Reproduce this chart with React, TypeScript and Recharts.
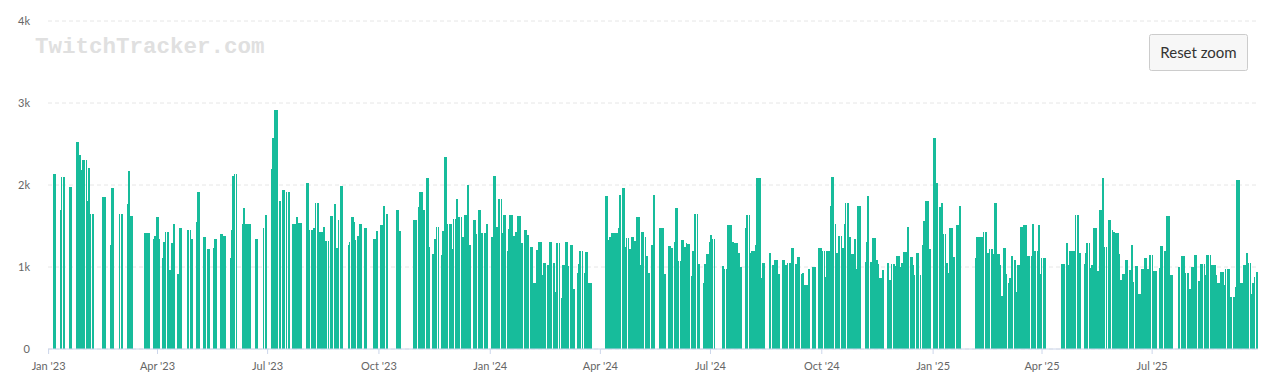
import { BarChart, Bar, XAxis, YAxis, CartesianGrid } from 'recharts';

// quarter start (day index from 1 Jan 2023) and labels
const quarterStarts = [0, 90, 181, 273, 365, 456, 547, 639, 731, 821, 912];
const quarterLabels = ["Jan '23", "Apr '23", "Jul '23", "Oct '23", "Jan '24", "Apr '24", "Jul '24", "Oct '24", "Jan '25", "Apr '25", "Jul '25"];
const yTicks = [0, 1000, 2000, 3000, 4000];
const totalDays = 1000;

// average viewers per day, 0 = no stream
const q1_2023 = [
  0, 0, 0, 0, 2130, 2130, 2130, 0, 0, 0,
  1700, 2100, 2100, 2100, 0, 0, 0, 1970, 1970, 1970,
  0, 0, 0, 2530, 2530, 2530, 2370, 2180, 2300, 2300,
  2300, 2300, 1800, 2210, 2210, 1650, 1650, 1650, 0, 0,
  0, 0, 0, 0, 0, 1850, 1850, 1850, 0, 0,
  0, 1270, 1960, 1960, 1960, 0, 0, 0, 0, 1650,
  1650, 1650, 0, 0, 0, 1770, 2170, 2170, 1620, 1620,
  0, 0, 0, 0, 0, 0, 0, 0, 0, 1420,
  1420, 1420, 1420, 1420, 0, 0, 0, 1340, 1380, 1610,
];
const q2_2023 = [
  1610, 1610, 1340, 0, 1110, 1310, 1310, 1430, 1430, 1430,
  960, 960, 1290, 1520, 1520, 0, 0, 910, 1470, 1470,
  1470, 0, 0, 0, 0, 1450, 1450, 1450, 1340, 1340,
  0, 0, 1550, 1910, 1910, 1910, 0, 0, 1360, 1360,
  1360, 1220, 1220, 1220, 0, 0, 1230, 1340, 1340, 1340,
  0, 0, 1400, 1400, 1400, 1380, 1380, 0, 0, 0,
  1110, 1450, 2110, 2110, 2140, 2140, 0, 0, 0, 0,
  1520, 1720, 1720, 1520, 1520, 1520, 1520, 1520, 0, 0,
  0, 1340, 1340, 1340, 0, 0, 0, 0, 1480, 1630,
  1630,
];
const q3_2023 = [
  0, 0, 0, 2200, 2570, 2570, 2920, 2920, 2920, 0,
  1800, 1800, 1940, 1940, 1940, 0, 1920, 1920, 1920, 0,
  0, 1530, 1530, 1530, 1610, 1610, 1540, 1540, 1540, 0,
  0, 0, 2020, 2020, 2020, 1450, 1450, 1450, 1470, 1470,
  1780, 1780, 1780, 1430, 1430, 1430, 1490, 1490, 1320, 1320,
  1320, 0, 1620, 1620, 1620, 1770, 1770, 1230, 1230, 1570,
  1990, 1990, 1990, 0, 0, 0, 0, 1270, 1310, 1610,
  1610, 1610, 1550, 1330, 1380, 1380, 1530, 1530, 1530, 0,
  1480, 1480, 1480, 0, 0, 0, 0, 0, 1340, 1340,
  1440, 1440,
];
const q4_2023 = [
  0, 1510, 1510, 1510, 1750, 1750, 1650, 1650, 0, 0,
  0, 0, 0, 0, 0, 1700, 1700, 1440, 1440, 0,
  0, 0, 0, 0, 0, 0, 0, 0, 0, 1570,
  1570, 1570, 0, 1730, 1920, 1920, 1920, 1690, 1690, 2080,
  2080, 2080, 1240, 0, 1160, 1160, 1340, 1340, 1490, 1490,
  0, 0, 1150, 1440, 2340, 2340, 2340, 1530, 1530, 1530,
  1530, 1220, 1590, 1590, 1830, 1830, 1610, 1610, 1610, 1370,
  1370, 1630, 1630, 2000, 2000, 1270, 1270, 0, 1570, 1570,
  1570, 1400, 1700, 1700, 1700, 1410, 1410, 1410, 1410, 1530,
  1530, 0,
];
const q1_2024 = [
  0, 1360, 1360, 2110, 2110, 1490, 1490, 1830, 1830, 1830,
  1410, 1640, 1640, 1640, 1200, 1460, 1640, 1640, 1640, 1380,
  1380, 1430, 1430, 1620, 1620, 1620, 1290, 1290, 1450, 1450,
  1450, 1390, 1390, 1240, 1240, 1240, 800, 800, 1210, 1210,
  1300, 1300, 1300, 900, 1050, 1050, 1050, 1020, 1020, 1300,
  1300, 1300, 1050, 1050, 690, 1290, 1290, 1290, 0, 620,
  1030, 1030, 1310, 1310, 1310, 1010, 1270, 1270, 1270, 730,
  730, 0, 930, 1040, 1190, 1190, 1190, 0, 930, 1180,
  1180, 810, 810, 810, 810, 0, 0, 0, 0, 0,
  0,
];
const q2_2024 = [
  0, 0, 0, 0, 1860, 1860, 1860, 1330, 1370, 1410,
  1410, 1410, 1410, 1410, 1410, 1480, 1880, 1880, 1960, 1960,
  1960, 1240, 1350, 1350, 1220, 1220, 1370, 1370, 1320, 1320,
  1610, 1610, 1610, 1020, 1430, 1430, 1430, 1370, 1130, 1130,
  930, 930, 1270, 1270, 1880, 1880, 0, 0, 0, 1470,
  1470, 1470, 1470, 910, 910, 0, 1260, 1260, 1260, 1230,
  1230, 1300, 1720, 1720, 1720, 1070, 1070, 1330, 1330, 1330,
  1240, 1290, 1280, 1280, 1280, 890, 1200, 1200, 1650, 1650,
  1650, 1040, 1040, 0, 0, 800, 1040, 1040, 1160, 1160,
  1300,
];
const q3_2024 = [
  1390, 1390, 1340, 1340, 0, 0, 0, 0, 0, 0,
  1010, 1010, 980, 980, 1510, 1510, 1510, 1510, 1300, 1300,
  1290, 1290, 1290, 1170, 1170, 1000, 1000, 0, 0, 1480,
  1630, 1630, 1630, 1170, 1190, 1190, 1190, 1270, 2090, 2090,
  2090, 2090, 870, 1050, 1050, 1050, 0, 0, 0, 1170,
  1170, 1030, 1030, 1090, 1090, 1090, 920, 920, 0, 0,
  1080, 1080, 1020, 1020, 1050, 1050, 1050, 1230, 1230, 1230,
  1040, 1040, 1120, 1120, 1120, 920, 930, 930, 780, 780,
  780, 980, 980, 0, 1000, 1000, 1000, 1000, 0, 1230,
  1230, 1230,
];
const q4_2024 = [
  1230, 1200, 1200, 880, 1200, 1200, 1200, 1740, 2100, 2100,
  2100, 1520, 1170, 1170, 1380, 1380, 1380, 1230, 1230, 1520,
  1780, 1780, 1780, 1370, 1370, 1160, 1160, 1340, 1340, 980,
  1740, 1740, 1740, 0, 0, 0, 1060, 1310, 1870, 1870,
  1060, 1060, 1350, 1350, 1350, 1080, 1080, 1040, 870, 870,
  960, 960, 0, 0, 1050, 1050, 840, 840, 1040, 1040,
  1040, 1010, 1130, 1130, 1130, 1000, 1050, 1050, 1180, 1180,
  1180, 1490, 1490, 1120, 1120, 1120, 1020, 900, 1170, 1170,
  1170, 0, 900, 1270, 1560, 1560, 1800, 1800, 1800, 1220,
  1220, 0,
];
const q1_2025 = [
  2570, 2570, 2570, 2020, 2020, 1730, 1730, 1780, 1780, 1400,
  1400, 1050, 1050, 930, 1470, 1470, 1470, 1120, 1120, 1510,
  1510, 1510, 1740, 1740, 0, 0, 0, 0, 0, 0,
  0, 0, 0, 0, 0, 1110, 1360, 1360, 1360, 1370,
  1370, 1370, 1430, 1430, 1430, 1170, 1170, 1220, 1220, 1220,
  1160, 1780, 1780, 1160, 1160, 1160, 1020, 650, 1230, 1230,
  1230, 920, 810, 870, 870, 1130, 1130, 1080, 1080, 690,
  1030, 1030, 1490, 1490, 1490, 1510, 1510, 1510, 1130, 1130,
  1130, 1130, 1520, 1520, 1200, 1200, 1200, 1510, 1510, 910,
];
const q2_2025 = [
  1110, 1110, 1110, 1110, 0, 0, 0, 0, 0, 0,
  0, 0, 0, 0, 0, 0, 1040, 1040, 1040, 1040,
  1290, 1290, 1020, 1200, 1200, 1200, 1200, 1200, 1630, 1630,
  1630, 1170, 1170, 0, 0, 1040, 1170, 1290, 1290, 1290,
  990, 1020, 1020, 1480, 1480, 1480, 950, 950, 1690, 1690,
  2090, 2090, 1250, 1250, 0, 1570, 1570, 1570, 1450, 1430,
  1430, 1410, 1410, 1410, 1160, 840, 840, 910, 910, 1080,
  1080, 1080, 960, 960, 1270, 1270, 820, 1010, 1010, 1010,
  670, 670, 970, 970, 970, 1110, 1110, 970, 970, 1150,
  1150,
];
const q3_2025 = [
  1150, 950, 950, 950, 950, 0, 990, 1260, 1260, 1260,
  1190, 1190, 1620, 1620, 1620, 900, 900, 900, 0, 0,
  0, 0, 1000, 1000, 1130, 1130, 1130, 1130, 930, 930,
  930, 730, 730, 1000, 1000, 1150, 1150, 1150, 830, 830,
  1040, 1040, 1040, 1040, 900, 1150, 1150, 1150, 1150, 1020,
  1020, 1020, 1020, 900, 810, 810, 810, 940, 940, 940,
  780, 980, 980, 980, 980, 630, 640, 640, 640, 760,
  2060, 2060, 2060, 800, 800, 800, 1020, 1020, 1170, 1170,
  1050, 1050, 670, 810, 810, 880, 940, 940,
];

const quarters = [q1_2023, q2_2023, q3_2023, q4_2023, q1_2024, q2_2024, q3_2024, q4_2024, q1_2025, q2_2025, q3_2025];

const data: { day: number; viewers: number | null }[] = [];
for (let d = 0; d < totalDays; d++) data.push({ day: d, viewers: null });
quarters.forEach((vals, qi) => {
  vals.forEach((v, i) => {
    const d = quarterStarts[qi] + i;
    if (d < totalDays && v > 0) data[d].viewers = v;
  });
});

const fmtY = (v: number) => (v === 0 ? '0' : `${v / 1000}k`);
const fmtX = (v: number) => {
  const i = quarterStarts.indexOf(v);
  return i >= 0 ? quarterLabels[i] : '';
};

export default function App() {
  return (
    <div style={{ position: 'relative', width: 1261, height: 375, fontFamily: 'Lato, sans-serif' }}>
      <style>{'.recharts-bar-rectangle path { shape-rendering: crispEdges; }'}</style>
      <svg width={1261} height={375} style={{ position: 'absolute', left: 0, top: 0 }}>
        {/* watermark */}
        <text x={27} y={45} fontFamily="'Liberation Mono', monospace" fontWeight="bold" fontSize={22.5} fill="#e0e0e0">
          TwitchTracker.com
        </text>
      </svg>
      <BarChart
        width={1261}
        height={375}
        data={data}
        margin={{ top: 13, right: 11, bottom: 4, left: 0 }}
        style={{ position: 'relative' }}
      >
        <CartesianGrid vertical={false} stroke="#e6e6e6" strokeDasharray="4 3" />
        <XAxis
          dataKey="day"
          type="category"
          ticks={quarterStarts}
          interval={0}
          tickFormatter={fmtX}
          height={30}
          stroke="#ccd6eb"
          tickSize={5}
          tickMargin={8}
          tick={{ fill: '#666666', fontSize: 11 }}
        />
        <YAxis
          domain={[0, 4000]}
          ticks={yTicks}
          tickFormatter={fmtY}
          width={40}
          axisLine={false}
          tickLine={false}
          tickSize={0}
          tickMargin={18}
          tick={{ fill: '#666666', fontSize: 11 }}
        />
        <Bar dataKey="viewers" fill="#17bc9b" barSize={2} isAnimationActive={false} />
      </BarChart>
      <svg width={1261} height={375} style={{ position: 'absolute', left: 0, top: 0, pointerEvents: 'none' }}>
        {/* reset zoom button */}
        <rect x={1141.5} y={26.5} width={98} height={36} rx={2} fill="#f7f7f7" stroke="#cccccc" />
        <text x={1190.5} y={49.5} textAnchor="middle" fontFamily="Lato, sans-serif" fontSize={15} fill="#333333">
          Reset zoom
        </text>
      </svg>
    </div>
  );
}
